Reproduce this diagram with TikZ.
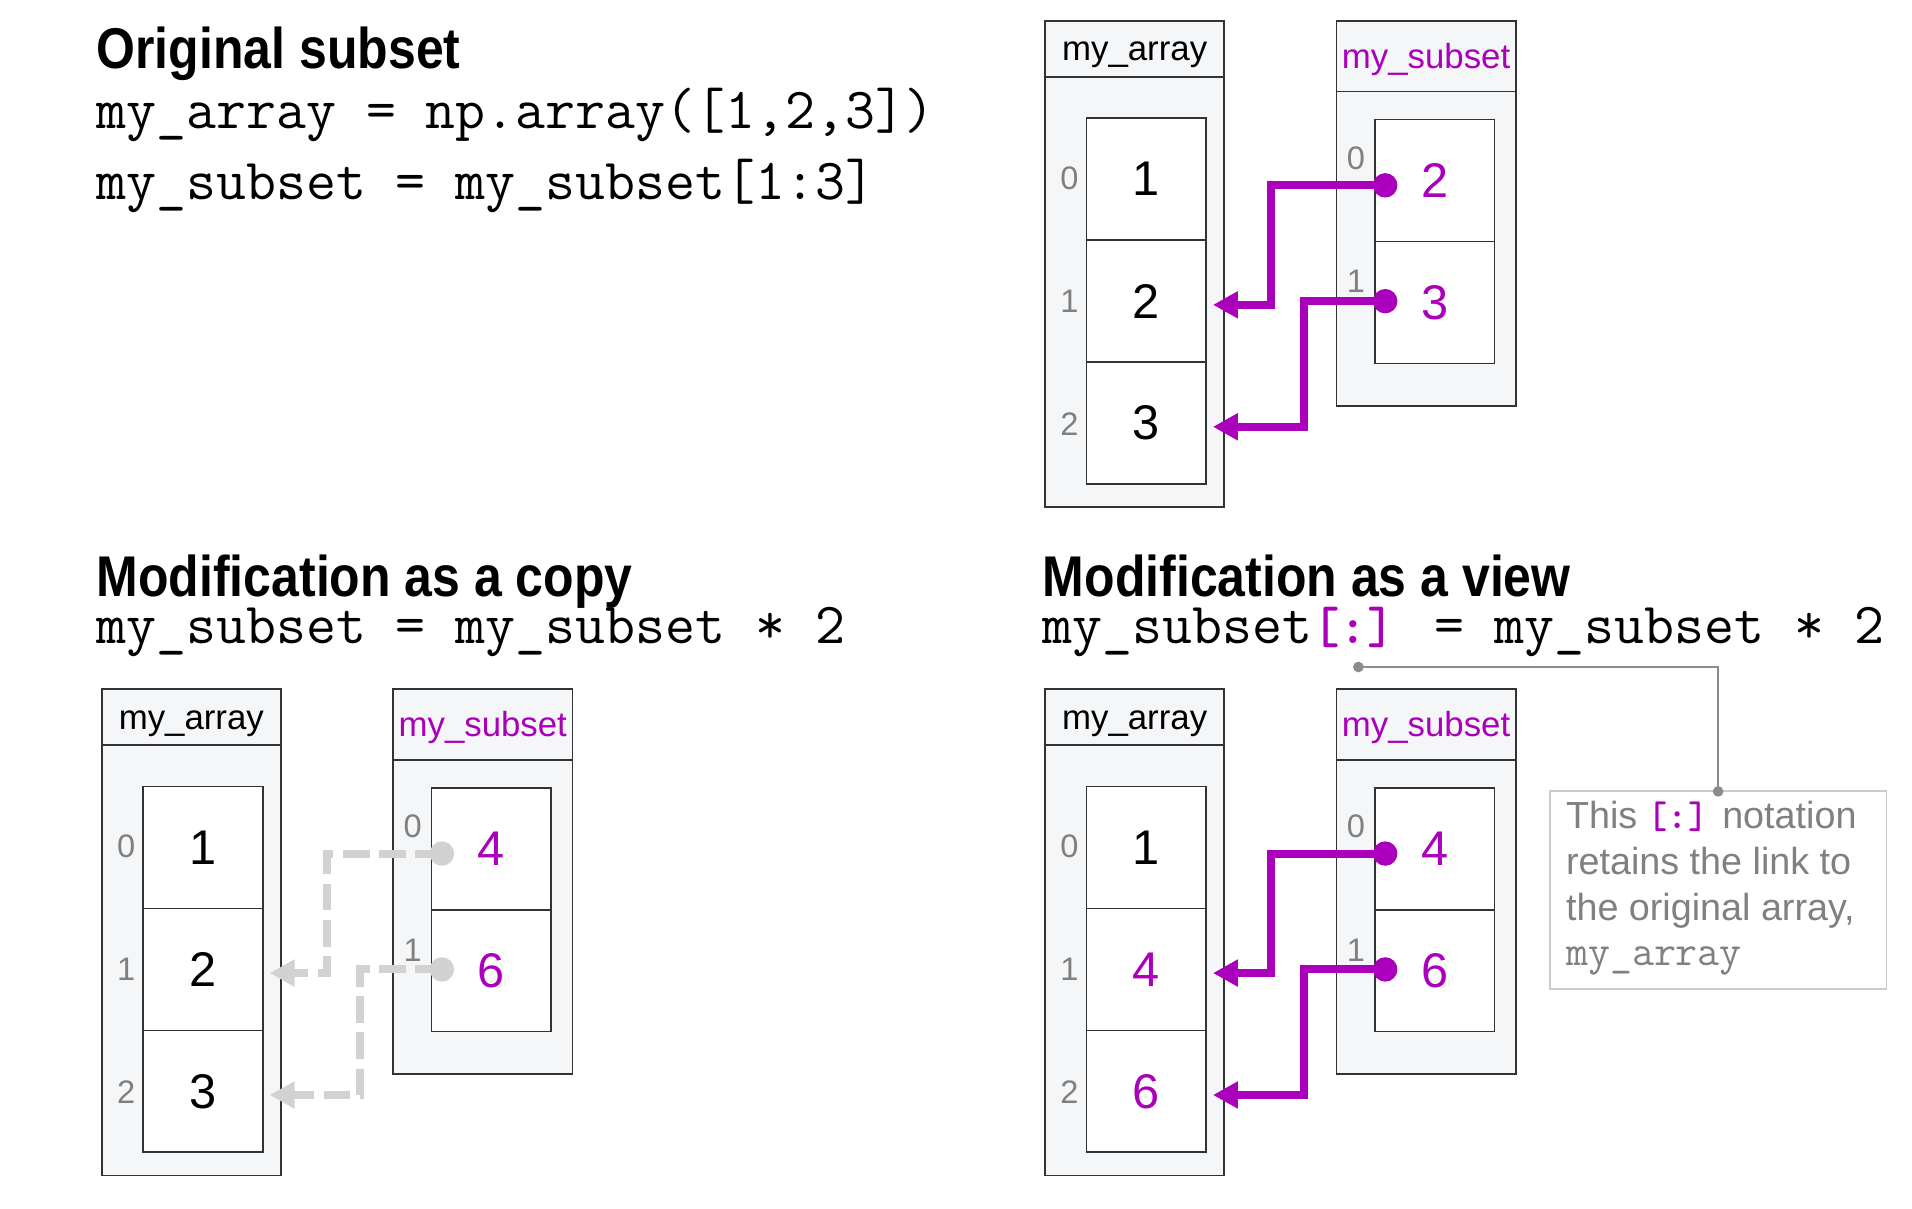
\documentclass[tikz,border=0pt]{standalone}
\usepackage{fontspec}
\setmainfont{Liberation Sans}
\newfontfamily\headfont{Liberation Sans}[FakeStretch=0.87]
\usepackage{tikz}
\usetikzlibrary{arrows.meta}

\definecolor{viewpurple}{RGB}{170,0,187}
\definecolor{boxgray}{RGB}{245,246,248}
\definecolor{framegray}{RGB}{51,51,51}
\definecolor{idxgray}{RGB}{128,128,128}
\definecolor{copygray}{RGB}{210,210,210}
\definecolor{notegray}{RGB}{204,204,204}
\definecolor{leadgray}{RGB}{140,140,140}

\begin{document}
\begin{tikzpicture}[x=0.025cm,y=-0.025cm]

  \tikzset{FRM/.style={draw=framegray, line width=1pt, fill=boxgray}}
  \tikzset{SEP/.style={draw=framegray, line width=1pt}}
  \tikzset{CELL/.style={draw=framegray, line width=1pt, fill=white, inner sep=0pt,
      minimum width=2.45cm, minimum height=2.5cm, font=\fontsize{28.4}{30}\selectfont}}
  \tikzset{IDX/.style={text=idxgray, inner sep=0pt, font=\fontsize{19}{21}\selectfont}}
  \tikzset{HDR/.style={anchor=base, inner sep=0pt, font=\fontsize{20.3}{22}\selectfont}}
  \tikzset{TTL/.style={anchor=base west, inner sep=0pt, font=\headfont\bfseries\fontsize{33.5}{36}\selectfont}}
  \tikzset{CODE/.style={anchor=base west, inner sep=0pt, font=\ttfamily\fontsize{33.9}{36}\selectfont}}
  \tikzset{DOT/.style={circle, fill=#1, minimum size=0.5cm, inner sep=0pt}}
  \tikzset{LNK/.style={draw=viewpurple, line width=4.7pt, -{Triangle[length=14.6pt,width=15pt]}}}
  \tikzset{CPY/.style={draw=copygray, line width=4.7pt, dash pattern=on 15.6pt off 5.5pt,
      -{Triangle[length=14.6pt,width=15pt]}}}

  \useasboundingbox (0,0) rectangle (1568,991);

  % titles and code
  \node[TTL]  (t-orig)  at (79,56)   {Original subset};
  \node[CODE] (c-orig1) at (79,105)  {my\_array = np.array([1,2,3])};
  \node[CODE] (c-orig2) at (79,164)  {my\_subset = my\_subset[1:3]};
  \node[TTL]  (t-copy)  at (79,489)  {Modification as a copy};
  \node[CODE] (c-copy)  at (79,528)  {my\_subset = my\_subset * 2};
  \node[TTL]  (t-view)  at (855,489) {Modification as a view};
  \node[CODE] (c-view)  at (855,528)
    {my\_subset{\bfseries\fontsize{30.6}{36}\selectfont\color{viewpurple}[:]} = my\_subset * 2};

  % original subset
  \draw[FRM] (857,17) rectangle (1004,416);
  \draw[SEP] (857,63) -- (1004,63);
  \draw[FRM] (1096,17) rectangle (1243,333);
  \draw[SEP] (1096,75) -- (1243,75);
  \node[HDR] (oA) at (930.5,50) {my\_array};
  \node[HDR, text=viewpurple] (oS) at (1169.5,56) {my\_subset};

  \node[CELL] (oa0) at (940,147) {1};
  \node[CELL] (oa1) at (940,247) {2};
  \node[CELL] (oa2) at (940,347) {3};
  \node[CELL, text=viewpurple] (os0) at (1176.5,148) {2};
  \node[CELL, text=viewpurple] (os1) at (1176.5,248) {3};

  \node[IDX] (oi0) at (877,146)  {0};
  \node[IDX] (oi1) at (877,247)  {1};
  \node[IDX] (oi2) at (877,348)  {2};
  \node[IDX] (oj0) at (1112,130) {0};
  \node[IDX] (oj1) at (1112,231) {1};

  \node[DOT=viewpurple] (od0) at (1136,152) {};
  \node[DOT=viewpurple] (od1) at (1136,247) {};
  \draw[LNK] (od0.center) -| (1042,200) |- ([xshift=0.125cm,yshift=-0.075cm]oa1.east);
  \draw[LNK] (od1.center) -| (1069,300) |- ([xshift=0.125cm,yshift=-0.075cm]oa2.east);

  % modification as a copy
  \begin{scope}[shift={(-773.6,548)}]
    \draw[FRM] (857,17) rectangle (1004,416);
    \draw[SEP] (857,63) -- (1004,63);
    \draw[FRM] (1096,17) rectangle (1243,333);
    \draw[SEP] (1096,75) -- (1243,75);
    \node[HDR] (cA) at (930.5,50) {my\_array};
    \node[HDR, text=viewpurple] (cS) at (1169.5,56) {my\_subset};

    \node[CELL] (ca0) at (940,147) {1};
    \node[CELL] (ca1) at (940,247) {2};
    \node[CELL] (ca2) at (940,347) {3};
    \node[CELL, text=viewpurple] (cs0) at (1176.5,148) {4};
    \node[CELL, text=viewpurple] (cs1) at (1176.5,248) {6};

    \node[IDX] (ci0) at (877,146)  {0};
    \node[IDX] (ci1) at (877,247)  {1};
    \node[IDX] (ci2) at (877,348)  {2};
    \node[IDX] (cj0) at (1112,130) {0};
    \node[IDX] (cj1) at (1112,231) {1};

    \node[DOT=copygray] (cd0) at (1136,152) {};
    \node[DOT=copygray] (cd1) at (1136,247) {};
    \draw[CPY] (cd0.center) -| (1042,200) |- ([xshift=0.125cm,yshift=-0.075cm]ca1.east);
    \draw[CPY] (cd1.center) -| (1069,300) |- ([xshift=0.125cm,yshift=-0.075cm]ca2.east);
  \end{scope}

  % modification as a view
  \begin{scope}[shift={(0,548)}]
    \draw[FRM] (857,17) rectangle (1004,416);
    \draw[SEP] (857,63) -- (1004,63);
    \draw[FRM] (1096,17) rectangle (1243,333);
    \draw[SEP] (1096,75) -- (1243,75);
    \node[HDR] (vA) at (930.5,50) {my\_array};
    \node[HDR, text=viewpurple] (vS) at (1169.5,56) {my\_subset};

    \node[CELL] (va0) at (940,147) {1};
    \node[CELL, text=viewpurple] (va1) at (940,247) {4};
    \node[CELL, text=viewpurple] (va2) at (940,347) {6};
    \node[CELL, text=viewpurple] (vs0) at (1176.5,148) {4};
    \node[CELL, text=viewpurple] (vs1) at (1176.5,248) {6};

    \node[IDX] (vi0) at (877,146)  {0};
    \node[IDX] (vi1) at (877,247)  {1};
    \node[IDX] (vi2) at (877,348)  {2};
    \node[IDX] (vj0) at (1112,130) {0};
    \node[IDX] (vj1) at (1112,231) {1};

    \node[DOT=viewpurple] (vd0) at (1136,152) {};
    \node[DOT=viewpurple] (vd1) at (1136,247) {};
    \draw[LNK] (vd0.center) -| (1042,200) |- ([xshift=0.125cm,yshift=-0.075cm]va1.east);
    \draw[LNK] (vd1.center) -| (1069,300) |- ([xshift=0.125cm,yshift=-0.075cm]va2.east);
  \end{scope}

  % note on the [:] notation
  \node[draw=notegray, line width=1.1pt, minimum width=6.9cm, minimum height=4.05cm] (note) at (1409,730) {};
  \node[anchor=north west, inner sep=0pt, align=left, text=idxgray, font=\fontsize{22}{26.6}\selectfont]
    (notetxt) at (1284,657)
    {This {\ttfamily\bfseries\fontsize{22.4}{26}\selectfont\color{viewpurple}[:]} notation\\
     retains the link to\\
     the original array,\\
     {\ttfamily\fontsize{24.9}{26}\selectfont my\_array}};
  \node[DOT=leadgray, minimum size=0.22cm] (nd0) at (1114,547) {};
  \node[DOT=leadgray, minimum size=0.22cm] (nd1) at (1409,649) {};
  \draw[leadgray, line width=0.9pt] (nd0.center) -| (nd1.center);
\end{tikzpicture}
\end{document}
